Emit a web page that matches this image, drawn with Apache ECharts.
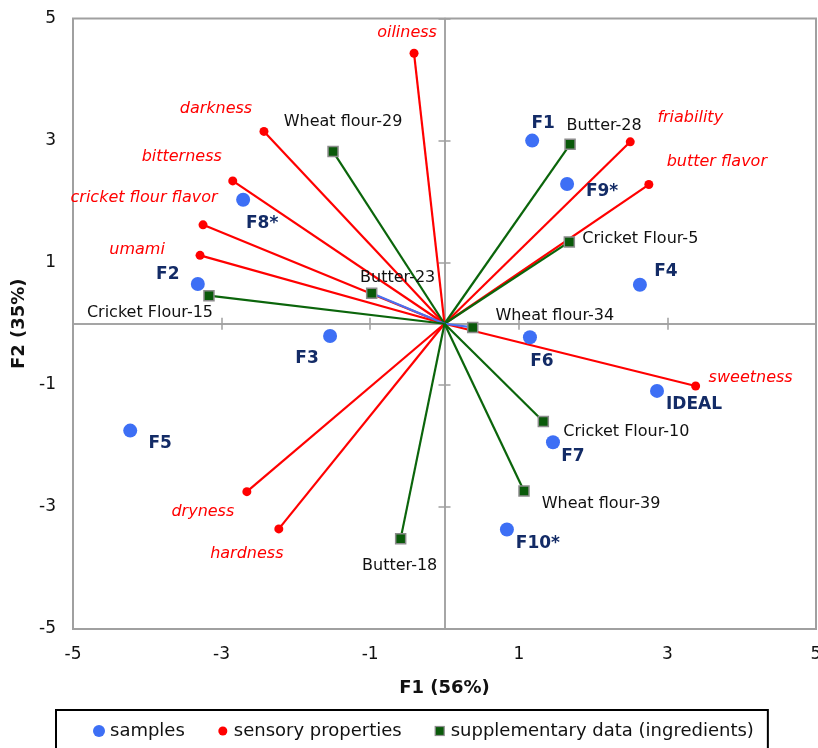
<!DOCTYPE html>
<html>
<head>
<meta charset="utf-8">
<script src="https://cdn.jsdelivr.net/npm/echarts@6/dist/echarts.min.js"></script>
<style>html,body{margin:0;padding:0;background:#fff}#c{width:818px;height:748px}</style>
</head>
<body>
<div id="c"></div>
<script>
// ---- data ----
const sampleNames = ['F1','F9*','F4','F8*','F2','F3','F6','IDEAL','F7','F10*','F5'];
const sampleF1 = [1.18, 1.65, 2.63, -2.71, -3.32, -1.54, 1.15, 2.86, 1.46, 0.84, -4.23];
const sampleF2 = [3.00, 2.29, 0.64, 2.03, 0.65, -0.20, -0.22, -1.10, -1.94, -3.37, -1.75];

const sensoryNames = ['oiliness','friability','butter flavor','darkness','bitterness','cricket flour flavor','umami','dryness','hardness','sweetness'];
const sensoryF1 = [-0.41, 2.50, 2.75, -2.43, -2.85, -3.25, -3.29, -2.66, -2.23, 3.38];
const sensoryF2 = [4.43, 2.98, 2.28, 3.15, 2.34, 1.62, 1.12, -2.75, -3.36, -1.02];

const suppNames = ['Wheat flour-29','Butter-28','Cricket Flour-5','Butter-23','Wheat flour-34','Cricket Flour-15','Butter-18','Cricket Flour-10','Wheat flour-39'];
const suppF1 = [-1.50, 1.69, 1.68, -0.98, 0.38, -3.17, -0.59, 1.33, 1.07];
const suppF2 = [2.82, 2.94, 1.34, 0.50, -0.06, 0.46, -3.52, -1.60, -2.74];

const axisMin = -5, axisMax = 5, axisStep = 2;

// ---- styles ----
const FONT = 'DejaVu Sans';
const C_SAMPLE = '#3d6ff5', C_SAMPLE_TXT = '#132b66';
const C_SENS = '#ff0000';
const C_SUPP = '#0b650b', C_SUPP_FILL = '#0a5a0a';
const C_BLUE_LINE = '#4a70f0';
const blueLineItems = ['Butter-23','Wheat flour-34'];

const sampleLabelOffset = {
  'F1':[11,-17],'F9*':[35,8],'F4':[26,-13],'F8*':[19,24],'F2':[-30,-9],'F3':[-23,23],
  'F6':[12,24],'IDEAL':[37,14],'F7':[20,14],'F10*':[31,14],'F5':[30,13]
};
const sensoryLabelOffset = {
  'oiliness':[-7,-20],'friability':[60,-24],'butter flavor':[68,-23],'darkness':[-48,-23],
  'bitterness':[-51,-24],'cricket flour flavor':[-59,-27],'umami':[-63,-6],'dryness':[-44,20],
  'hardness':[-32,25],'sweetness':[55,-8]
};
const suppLabelOffset = {
  'Wheat flour-29':[10,-30],'Butter-28':[34,-18],'Cricket Flour-5':[71,-3],'Butter-23':[26,-15],
  'Wheat flour-34':[82,-12],'Cricket Flour-15':[-59,17],'Butter-18':[-1,27],
  'Cricket Flour-10':[83,10],'Wheat flour-39':[77,13]
};

function pts(names, xs, ys, offs) {
  return names.map((n, i) => ({ name: n, value: [xs[i], ys[i]], label: { offset: offs[n] } }));
}
function vecs(names, xs, ys, colorFn) {
  return names.map((n, i) => ({ coords: [[0, 0], [xs[i], ys[i]]], lineStyle: { color: colorFn(n) } }));
}
function svgIcon(inner) {
  return 'image://data:image/svg+xml;charset=utf-8,' + encodeURIComponent(
    '<svg xmlns="http://www.w3.org/2000/svg" width="12" height="12" viewBox="0 0 12 12">' + inner + '</svg>');
}

const gridBox = { left: 73, right: 2, top: 18.5, bottom: 119, outerBoundsMode: 'none', containLabel: false };
function zeroAxis(idx, inside) {
  const common = { type: 'value', gridIndex: idx, min: axisMin, max: axisMax, interval: axisStep,
    axisLine: { onZero: true, lineStyle: { color: '#a0a0a0', width: 1.5 } },
    axisTick: { show: true, inside: inside, length: 6, lineStyle: { color: '#a0a0a0', width: 1.5 } },
    axisLabel: { show: false }, splitLine: { show: false } };
  return { x: Object.assign({}, common), y: Object.assign({}, common) };
}
const z1 = zeroAxis(1, false), z2 = zeroAxis(2, true);

const chart = echarts.init(document.getElementById('c'), null, { renderer: 'canvas' });
chart.setOption({
  animation: false,
  backgroundColor: '#fff',
  textStyle: { fontFamily: FONT },
  grid: [
    Object.assign({ show: true, borderColor: '#a0a0a0', borderWidth: 2, backgroundColor: 'transparent' }, gridBox),
    Object.assign({}, gridBox),
    Object.assign({}, gridBox)
  ],
  xAxis: [
    { type: 'value', gridIndex: 0, min: axisMin, max: axisMax, interval: axisStep,
      axisLine: { show: false, onZero: false }, axisTick: { show: false }, splitLine: { show: false },
      axisLabel: { color: '#111', fontSize: 17, fontFamily: FONT, margin: 17 },
      name: 'F1 (56%)', nameLocation: 'middle', nameGap: 50,
      nameTextStyle: { fontWeight: 'bold', fontSize: 18, color: '#111', fontFamily: FONT } },
    z1.x, z2.x
  ],
  yAxis: [
    { type: 'value', gridIndex: 0, min: axisMin, max: axisMax, interval: axisStep,
      axisLine: { show: false, onZero: false }, axisTick: { show: false }, splitLine: { show: false },
      axisLabel: { color: '#111', fontSize: 17, fontFamily: FONT, margin: 17 },
      name: 'F2 (35%)', nameLocation: 'middle', nameGap: 44,
      nameTextStyle: { fontWeight: 'bold', fontSize: 18, color: '#111', fontFamily: FONT } },
    z1.y, z2.y
  ],
  legend: {
    left: 56, top: 710,
    padding: [12, 14, 20, 37],
    borderColor: '#000', borderWidth: 2,
    itemWidth: 12, itemHeight: 12, itemGap: 32,
    textStyle: { fontSize: 18, color: '#111', fontFamily: FONT },
    data: [
      { name: 'samples', icon: svgIcon('<circle cx="6" cy="6" r="6" fill="' + C_SAMPLE + '"/>') },
      { name: 'sensory properties', icon: svgIcon('<circle cx="6" cy="6" r="4.5" fill="' + C_SENS + '"/>') },
      { name: 'supplementary data (ingredients)', icon: svgIcon('<rect x="1.5" y="1.5" width="9" height="9" fill="' + C_SUPP_FILL + '" stroke="#8c8c8c" stroke-width="1.2"/>') }
    ]
  },
  series: [
    { type: 'lines', coordinateSystem: 'cartesian2d', xAxisIndex: 0, yAxisIndex: 0, z: 2, silent: true,
      lineStyle: { width: 2.2, opacity: 1 },
      data: vecs(sensoryNames, sensoryF1, sensoryF2, () => C_SENS) },
    { type: 'lines', coordinateSystem: 'cartesian2d', xAxisIndex: 0, yAxisIndex: 0, z: 3, silent: true,
      lineStyle: { width: 2.2, opacity: 1 },
      data: vecs(suppNames, suppF1, suppF2, n => blueLineItems.includes(n) ? C_BLUE_LINE : C_SUPP) },
    { name: 'samples', type: 'scatter', xAxisIndex: 0, yAxisIndex: 0, z: 5,
      symbol: 'circle', symbolSize: 14, itemStyle: { color: C_SAMPLE, opacity: 1 },
      label: { show: true, position: 'inside', formatter: '{b}', color: C_SAMPLE_TXT, fontWeight: 'bold',
               fontSize: 17, fontFamily: FONT },
      data: pts(sampleNames, sampleF1, sampleF2, sampleLabelOffset) },
    { name: 'sensory properties', type: 'scatter', xAxisIndex: 0, yAxisIndex: 0, z: 5,
      symbol: 'circle', symbolSize: 9, itemStyle: { color: C_SENS, opacity: 1 },
      label: { show: true, position: 'inside', formatter: '{b}', color: C_SENS, fontStyle: 'italic',
               fontSize: 16, fontFamily: FONT },
      data: pts(sensoryNames, sensoryF1, sensoryF2, sensoryLabelOffset) },
    { name: 'supplementary data (ingredients)', type: 'scatter', xAxisIndex: 0, yAxisIndex: 0, z: 5,
      symbol: 'rect', symbolSize: 10, itemStyle: { color: C_SUPP_FILL, borderColor: '#8c8c8c', borderWidth: 1.5, opacity: 1 },
      label: { show: true, position: 'inside', formatter: '{b}', color: '#111',
               fontSize: 16, fontFamily: FONT },
      data: pts(suppNames, suppF1, suppF2, suppLabelOffset) }
  ]
});
</script>
</body>
</html>
